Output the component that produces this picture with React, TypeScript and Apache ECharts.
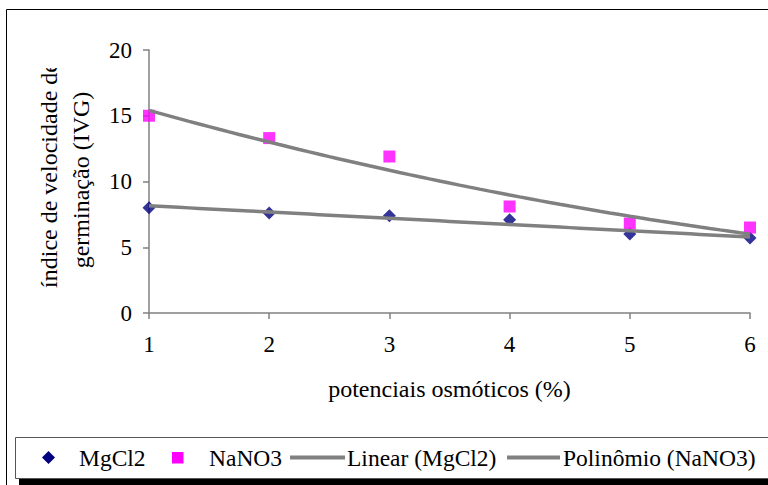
import React, { useEffect, useRef } from "react";
import * as echarts from "echarts";

// Osmotic potentials (%) and germination speed index (IVG)
const potentials = [1, 2, 3, 4, 5, 6];
const mgcl2 = [8.0, 7.6, 7.4, 7.1, 6.0, 5.7];
const nano3 = [15.0, 13.3, 11.9, 8.1, 6.8, 6.5];
const yTicks = { min: 0, max: 20, interval: 5 };
const xTicks = { min: 1, max: 6, interval: 1 };
const seriesNames = ["MgCl2", "NaNO3", "Linear (MgCl2)", "Polinômio (NaNO3)"];

const FONT = "Liberation Serif, Times New Roman, serif";
const GREY = "#808080";
const NAVY = "#000080";
const MAGENTA = "#FF00FF";

// Least-squares polynomial fit (normal equations + Gaussian elimination)
function polyfit(xs: number[], ys: number[], degree: number): number[] {
  const n = degree + 1;
  const A: number[][] = [];
  for (let r = 0; r < n; r++) {
    const row: number[] = [];
    for (let c = 0; c < n; c++) {
      row.push(xs.reduce((s, x) => s + Math.pow(x, r + c), 0));
    }
    row.push(xs.reduce((s, x, i) => s + Math.pow(x, r) * ys[i], 0));
    A.push(row);
  }
  for (let p = 0; p < n; p++) {
    let best = p;
    for (let r = p + 1; r < n; r++) if (Math.abs(A[r][p]) > Math.abs(A[best][p])) best = r;
    [A[p], A[best]] = [A[best], A[p]];
    for (let r = 0; r < n; r++) {
      if (r === p) continue;
      const f = A[r][p] / A[p][p];
      for (let c = p; c <= n; c++) A[r][c] -= f * A[p][c];
    }
  }
  return A.map((row, i) => row[n] / row[i]);
}

function trendPoints(coef: number[], from: number, to: number, steps: number): number[][] {
  const pts: number[][] = [];
  for (let i = 0; i <= steps; i++) {
    const x = from + ((to - from) * i) / steps;
    const y = coef.reduce((s, c, k) => s + c * Math.pow(x, k), 0);
    pts.push([x, y]);
  }
  return pts;
}

function legendText(text: string, x: number) {
  return {
    type: "text",
    z: 5,
    x,
    y: 458,
    style: {
      text,
      fontFamily: FONT,
      fontSize: 23.5,
      fill: "#000",
      align: "left",
      verticalAlign: "middle",
    },
  };
}

export default function App() {
  const ref = useRef<HTMLDivElement>(null);

  useEffect(() => {
    if (!ref.current) return;
    const chart = echarts.init(ref.current, null, { renderer: "svg" });

    const linearMg = trendPoints(polyfit(potentials, mgcl2, 1), 1, 6, 60);
    const polyNa = trendPoints(polyfit(potentials, nano3, 2), 1, 6, 60);

    chart.setOption({
      animation: false,
      backgroundColor: "#ffffff",
      textStyle: { fontFamily: FONT },
      grid: { left: 149, right: 18, top: 50, bottom: 172, containLabel: false },
      xAxis: {
        type: "value",
        min: xTicks.min,
        max: xTicks.max,
        interval: xTicks.interval,
        name: "potenciais osmóticos (%)",
        nameLocation: "middle",
        nameGap: 64,
        nameTextStyle: { fontFamily: FONT, fontSize: 24, color: "#000" },
        axisLine: { lineStyle: { color: GREY, width: 1.5 } },
        axisTick: { inside: false, length: 6, lineStyle: { color: GREY, width: 1.5 } },
        axisLabel: { margin: 20, fontFamily: FONT, fontSize: 23, color: "#000" },
        splitLine: { show: false },
      },
      yAxis: {
        type: "value",
        min: yTicks.min,
        max: yTicks.max,
        interval: yTicks.interval,
        axisLine: { show: true, lineStyle: { color: GREY, width: 1.5 } },
        axisTick: { show: true, inside: false, length: 6, lineStyle: { color: GREY, width: 1.5 } },
        axisLabel: { margin: 17, fontFamily: FONT, fontSize: 23, color: "#000" },
        splitLine: { show: false },
      },
      graphic: [
        // outer chart frame
        {
          type: "rect",
          z: 0,
          shape: { x: 6.5, y: 9.5, width: 900, height: 600 },
          style: { fill: "none", stroke: "#000", lineWidth: 1 },
        },
        // legend box with its shadow
        {
          type: "rect",
          z: 1,
          shape: { x: 19, y: 441, width: 900, height: 60 },
          style: { fill: "#000" },
        },
        {
          type: "rect",
          z: 2,
          shape: { x: 15.5, y: 437.5, width: 900, height: 41 },
          style: { fill: "#fff", stroke: "#555", lineWidth: 1 },
        },
        // legend keys
        {
          type: "polygon",
          z: 5,
          shape: { points: [[48.5, 451], [55, 457.5], [48.5, 464], [42, 457.5]] },
          style: { fill: NAVY },
        },
        legendText(seriesNames[0], 79),
        {
          type: "rect",
          z: 5,
          shape: { x: 172, y: 452, width: 11.5, height: 11.5 },
          style: { fill: MAGENTA },
        },
        legendText(seriesNames[1], 209),
        {
          type: "rect",
          z: 5,
          shape: { x: 290, y: 455.5, width: 55, height: 4 },
          style: { fill: GREY },
        },
        legendText(seriesNames[2], 347),
        {
          type: "rect",
          z: 5,
          shape: { x: 507, y: 455.5, width: 53, height: 4 },
          style: { fill: GREY },
        },
        legendText(seriesNames[3], 563),
        // y-axis title, two lines; the first is cut off at its top end
        {
          type: "text",
          z: 3,
          x: 49,
          y: 175,
          rotation: Math.PI / 2,
          style: {
            text: "índice de velocidade de",
            fontFamily: FONT,
            fontSize: 24,
            fill: "#000",
            align: "center",
            verticalAlign: "middle",
          },
        },
        {
          type: "rect",
          z: 4,
          shape: { x: 30, y: 10, width: 34, height: 58 },
          style: { fill: "#fff" },
        },
        {
          type: "text",
          z: 3,
          x: 81,
          y: 180,
          rotation: Math.PI / 2,
          style: {
            text: "germinação (IVG)",
            fontFamily: FONT,
            fontSize: 24,
            fill: "#000",
            align: "center",
            verticalAlign: "middle",
          },
        },
      ],
      series: [
        {
          name: seriesNames[0],
          type: "scatter",
          symbol: "diamond",
          symbolSize: 13,
          itemStyle: { color: NAVY },
          data: potentials.map((x, i) => [x, mgcl2[i]]),
          z: 2,
        },
        {
          name: seriesNames[1],
          type: "scatter",
          symbol: "rect",
          symbolSize: 12,
          itemStyle: { color: MAGENTA },
          data: potentials.map((x, i) => [x, nano3[i]]),
          z: 2,
        },
        {
          name: seriesNames[2],
          type: "line",
          showSymbol: false,
          symbol: "none",
          itemStyle: { color: GREY },
          lineStyle: { color: GREY, width: 3.5 },
          data: linearMg,
          z: 3,
        },
        {
          name: seriesNames[3],
          type: "line",
          showSymbol: false,
          symbol: "none",
          itemStyle: { color: GREY },
          lineStyle: { color: GREY, width: 3.5 },
          data: polyNa,
          z: 3,
        },
      ],
    });

    return () => chart.dispose();
  }, []);

  return (
    <div
      ref={ref}
      style={{ position: "fixed", left: 0, top: 0, width: 768, height: 485, background: "#fff" }}
    />
  );
}
